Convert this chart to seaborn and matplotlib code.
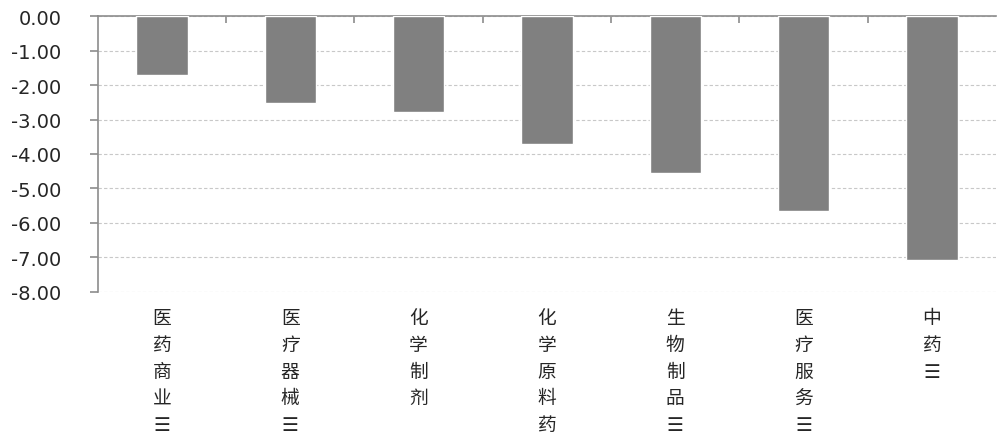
import numpy as np
import pandas as pd
import matplotlib
matplotlib.use("Agg")
import matplotlib.pyplot as plt
import seaborn as sns

categories = ["医药商业Ⅲ", "医疗器械Ⅲ", "化学制剂", "化学原料药", "生物制品Ⅲ", "医疗服务Ⅲ", "中药Ⅲ"]
values = [-1.71, -2.52, -2.78, -3.71, -4.55, -5.65, -7.07]
yticks = [0, -1, -2, -3, -4, -5, -6, -7, -8]


def stack(label):
    # vertical text, the roman numeral drawn as three bars like the source
    return "\n".join("☰" if c == "Ⅲ" else c for c in label)


sns.set_theme(style="white")
plt.rcParams["font.family"] = ["Noto Sans CJK SC", "DejaVu Sans"]

fig = plt.figure(figsize=(9.98, 4.39), dpi=100)
ax = fig.add_axes([0.098, 0.333, 0.9, 0.628])

data = pd.DataFrame({"cat": categories, "val": values})
sns.barplot(data=data, x="cat", y="val", color="#808080", saturation=1,
            width=0.4, ax=ax, zorder=3)

ax.set_ylim(-8, 0)
ax.set_xlim(-0.5, len(categories) - 0.5)
ax.set_yticks(yticks)
ax.set_yticklabels([f"{v:.2f}" for v in yticks], fontfamily="DejaVu Sans", fontsize=14)
ax.yaxis.grid(True, color="#c8c8c8", linestyle=(0, (3, 2)), linewidth=0.8, zorder=0)

ax.set_xticks(range(len(categories)))
ax.set_xticklabels([stack(c) for c in categories], fontsize=13.5,
                   linespacing=1.36, va="top")
ax.tick_params(axis="x", which="major", length=0, pad=11)
ax.set_xticks(np.arange(0.5, len(categories) - 1, 1), minor=True)
ax.tick_params(axis="x", which="minor", top=True, bottom=False, direction="in",
               length=5, width=1.2, color="#8c8c8c")
ax.tick_params(axis="y", left=True, direction="out", length=6, width=1.2,
               color="#8c8c8c", pad=20)

for s in ["right", "bottom"]:
    ax.spines[s].set_visible(False)
for s in ["left", "top"]:
    ax.spines[s].set_color("#8c8c8c")
    ax.spines[s].set_linewidth(1.2)

ax.set_xlabel("")
ax.set_ylabel("")

fig.savefig("out.png", dpi=100)
